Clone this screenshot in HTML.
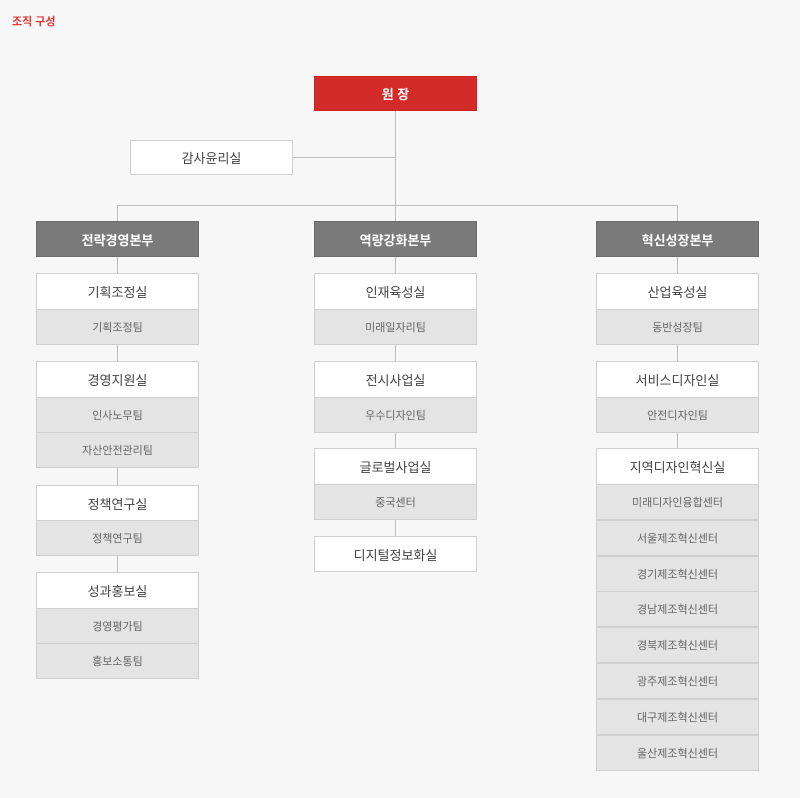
<!DOCTYPE html>
<html><head><meta charset="utf-8"><style>
body{margin:0;width:800px;height:798px;background:#f7f7f7;position:relative;overflow:hidden;font-family:"Liberation Sans","Noto Sans CJK KR","NanumGothic",sans-serif}
.b{position:absolute;box-sizing:border-box;display:flex;align-items:center;justify-content:center;border:1px solid #cfcfcf}
.s{background:#fff;color:#444;font-size:13px}
.t{background:#e4e4e4;color:#666;font-size:11px}
.h{background:#7a7a7b;color:#fff;font-size:13px;font-weight:bold;border-color:#6d6d6d}
.l{position:absolute;background:#bdbdbd}
</style></head><body>
<div style="position:absolute;left:12px;top:13px;font-size:11px;color:#e53935;font-weight:bold">조직 구성</div>
<!-- lines -->
<div class="l" style="left:395px;top:100px;width:1px;height:180px"></div>
<div class="l" style="left:292px;top:157px;width:103px;height:1px"></div>
<div class="l" style="left:117px;top:205px;width:560px;height:1px"></div>
<div class="l" style="left:117px;top:205px;width:1px;height:380px"></div>
<div class="l" style="left:395px;top:205px;width:1px;height:340px"></div>
<div class="l" style="left:677px;top:205px;width:1px;height:260px"></div>

<div class="b" style="left:314px;top:76px;width:163px;height:35px;background:#d32a2a;color:#fff;font-weight:bold;font-size:13px;border-color:#c22">원 장</div>
<div class="b s" style="left:130px;top:140px;width:163px;height:35px">감사윤리실</div>

<div class="b h" style="left:36px;top:221px;width:163px;height:36px">전략경영본부</div>
<div class="b h" style="left:314px;top:221px;width:163px;height:36px">역량강화본부</div>
<div class="b h" style="left:596px;top:221px;width:163px;height:36px">혁신성장본부</div>

<!-- left -->
<div class="b s" style="left:36px;top:273px;width:163px;height:37px">기획조정실</div>
<div class="b t" style="left:36px;top:309px;width:163px;height:36px">기획조정팀</div>
<div class="b s" style="left:36px;top:361px;width:163px;height:37px">경영지원실</div>
<div class="b t" style="left:36px;top:397px;width:163px;height:36px">인사노무팀</div>
<div class="b t" style="left:36px;top:432px;width:163px;height:36px">자산안전관리팀</div>
<div class="b s" style="left:36px;top:485px;width:163px;height:36px">정책연구실</div>
<div class="b t" style="left:36px;top:520px;width:163px;height:36px">정책연구팀</div>
<div class="b s" style="left:36px;top:572px;width:163px;height:37px">성과홍보실</div>
<div class="b t" style="left:36px;top:608px;width:163px;height:36px">경영평가팀</div>
<div class="b t" style="left:36px;top:643px;width:163px;height:36px">홍보소통팀</div>

<!-- middle -->
<div class="b s" style="left:314px;top:273px;width:163px;height:37px">인재육성실</div>
<div class="b t" style="left:314px;top:309px;width:163px;height:36px">미래일자리팀</div>
<div class="b s" style="left:314px;top:361px;width:163px;height:37px">전시사업실</div>
<div class="b t" style="left:314px;top:397px;width:163px;height:36px">우수디자인팀</div>
<div class="b s" style="left:314px;top:448px;width:163px;height:37px">글로벌사업실</div>
<div class="b t" style="left:314px;top:484px;width:163px;height:36px">중국센터</div>
<div class="b s" style="left:314px;top:536px;width:163px;height:36px">디지털정보화실</div>

<!-- right -->
<div class="b s" style="left:596px;top:273px;width:163px;height:37px">산업육성실</div>
<div class="b t" style="left:596px;top:309px;width:163px;height:36px">동반성장팀</div>
<div class="b s" style="left:596px;top:361px;width:163px;height:37px">서비스디자인실</div>
<div class="b t" style="left:596px;top:397px;width:163px;height:36px">안전디자인팀</div>
<div class="b s" style="left:596px;top:448px;width:163px;height:37px">지역디자인혁신실</div>
<div class="b t" style="left:596px;top:484px;width:163px;height:36px">미래디자인융합센터</div>
<div class="b t" style="left:596px;top:520px;width:163px;height:36px">서울제조혁신센터</div>
<div class="b t" style="left:596px;top:556px;width:163px;height:36px">경기제조혁신센터</div>
<div class="b t" style="left:596px;top:591px;width:163px;height:36px">경남제조혁신센터</div>
<div class="b t" style="left:596px;top:627px;width:163px;height:36px">경북제조혁신센터</div>
<div class="b t" style="left:596px;top:663px;width:163px;height:36px">광주제조혁신센터</div>
<div class="b t" style="left:596px;top:699px;width:163px;height:36px">대구제조혁신센터</div>
<div class="b t" style="left:596px;top:735px;width:163px;height:36px">울산제조혁신센터</div>
</body></html>
